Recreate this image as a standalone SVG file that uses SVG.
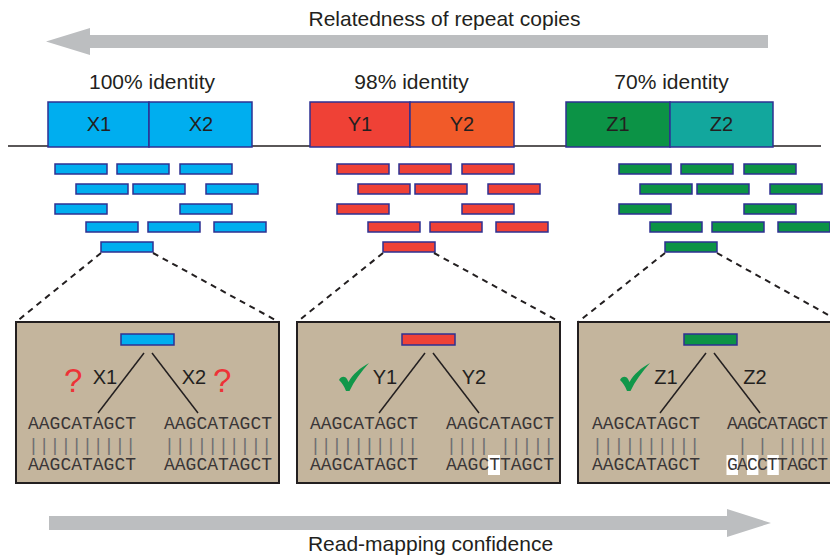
<svg xmlns="http://www.w3.org/2000/svg" xmlns:xlink="http://www.w3.org/1999/xlink" width="830" height="558" viewBox="0 0 830 558">
<style>
.lbl{font-family:"Liberation Sans",Arial,sans-serif;fill:#231f20}
.big{font-size:21px}
.box{font-size:20px;text-anchor:middle}
.q{font-family:"Liberation Sans",Arial,sans-serif;font-size:33px;fill:#ed3237}
.seq{font-family:"Courier New","Liberation Mono",monospace;font-size:18px;fill:#3a3637}
.bar{font-family:"Courier New","Liberation Mono",monospace;font-size:18px;fill:#6d6e71}
.rep{stroke:#2e3192;stroke-width:1.5}
.panel{fill:#c4b59d;stroke:#231f20;stroke-width:2}
.dash{stroke:#231f20;stroke-width:2;stroke-dasharray:6 5;fill:none}
.ln{stroke:#231f20;stroke-width:1.5;fill:none}
.arrow{fill:#bcbec0}
.hl{fill:#ffffff}
.chk{fill:#11974a}
</style>
<defs>
<g id="reads" stroke="#2e3192" stroke-width="1.5">
<rect x="55" y="164" width="52" height="10"/>
<rect x="117" y="164" width="52" height="10"/>
<rect x="180" y="164" width="52" height="10"/>
<rect x="76" y="184" width="52" height="10"/>
<rect x="133" y="184" width="52" height="10"/>
<rect x="206" y="184" width="52" height="10"/>
<rect x="55" y="204" width="52" height="10"/>
<rect x="180" y="204" width="52" height="10"/>
<rect x="86" y="222" width="52" height="10"/>
<rect x="148" y="222" width="52" height="10"/>
<rect x="214" y="222" width="52" height="10"/>
<rect x="101" y="242" width="52" height="10"/>
</g>
<path id="check" d="M58,380 C60,376 64,376 66,379 L67.5,382 C72,374 79,368 88,363 C80,372 73,381 68.5,391 L65,391 C63,386 61,383 58,380 Z"/>
</defs>

<g id="arrow-relatedness">
<path class="arrow" d="M768,35 L90,35 L90,28 L46,41.5 L90,55 L90,48 L768,48 Z"/>
<text class="lbl big" x="444.5" y="26" text-anchor="middle">Relatedness of repeat copies</text>
</g>

<g id="genome">
<line x1="8" y1="146" x2="821" y2="146" stroke="#231f20" stroke-width="1.5"/>
</g>

<g id="repeat-X">
<text class="lbl big" x="152" y="89" text-anchor="middle">100% identity</text>
<rect class="rep" x="48" y="102" width="101" height="45" fill="#00aeef"/>
<rect class="rep" x="149" y="102" width="103" height="45" fill="#00aeef"/>
<text class="lbl box" x="99" y="131">X1</text>
<text class="lbl box" x="201" y="131">X2</text>
</g>

<g id="repeat-Y">
<text class="lbl big" x="411.5" y="89" text-anchor="middle">98% identity</text>
<rect class="rep" x="310" y="102" width="100" height="45" fill="#ef4136"/>
<rect class="rep" x="410" y="102" width="104" height="45" fill="#f15a29"/>
<text class="lbl box" x="360" y="131">Y1</text>
<text class="lbl box" x="462" y="131">Y2</text>
</g>

<g id="repeat-Z">
<text class="lbl big" x="671.5" y="89" text-anchor="middle">70% identity</text>
<rect class="rep" x="566" y="102" width="104" height="45" fill="#0c9346"/>
<rect class="rep" x="670" y="102" width="103" height="45" fill="#12a79d"/>
<text class="lbl box" x="618" y="131">Z1</text>
<text class="lbl box" x="721.5" y="131">Z2</text>
</g>

<g id="reads-X"><use xlink:href="#reads" fill="#00aeef"/></g>
<g id="reads-Y"><use xlink:href="#reads" fill="#ef4136" transform="translate(282,0)"/></g>
<g id="reads-Z"><use xlink:href="#reads" fill="#0c9346" transform="translate(564,0)"/></g>

<g id="panel-X">
<rect class="panel" x="16" y="322" width="263" height="161"/>
<rect class="rep" x="121" y="334" width="53" height="11" fill="#00aeef"/>
<text class="q" x="64" y="392">?</text>
<text class="lbl box" x="105" y="384">X1</text>
<text class="lbl box" x="194" y="384">X2</text>
<text class="q" x="213" y="392">?</text>
<text class="seq" x="28" y="429">AAGCATAGCT</text>
<text class="bar" x="28" y="451">||||||||||</text>
<text class="seq" x="28" y="470">AAGCATAGCT</text>
<text class="seq" x="164" y="429">AAGCATAGCT</text>
<text class="bar" x="164" y="451">||||||||||</text>
<text class="seq" x="164" y="470">AAGCATAGCT</text>
</g>

<g id="panel-Y" transform="translate(281,0)">
<rect class="panel" x="16" y="322" width="263" height="161"/>
<rect class="rep" x="121" y="334" width="53" height="11" fill="#ef4136"/>
<use xlink:href="#check" class="chk"/>
<text class="lbl box" x="104" y="384">Y1</text>
<text class="lbl box" x="193" y="384">Y2</text>
<text class="seq" x="29" y="429">AAGCATAGCT</text>
<text class="bar" x="29" y="451">||||||||||</text>
<text class="seq" x="29" y="470">AAGCATAGCT</text>
<rect class="hl" x="207" y="455" width="12" height="20"/>
<text class="seq" x="165" y="429">AAGCATAGCT</text>
<text class="bar" x="165" y="451" xml:space="preserve">|||| |||||</text>
<text class="seq" x="165" y="470">AAGCTTAGCT</text>
</g>

<g id="panel-Z" transform="translate(562,0)">
<rect class="panel" x="16" y="322" width="263" height="161"/>
<rect class="rep" x="122" y="334" width="53" height="11" fill="#0c9346"/>
<use xlink:href="#check" class="chk"/>
<text class="lbl box" x="104" y="384">Z1</text>
<text class="lbl box" x="193" y="384">Z2</text>
<text class="seq" x="30" y="429">AAGCATAGCT</text>
<text class="bar" x="30" y="451">||||||||||</text>
<text class="seq" x="30" y="470">AAGCATAGCT</text>
<rect class="hl" x="164.5" y="455" width="11.5" height="20"/>
<rect class="hl" x="184.9" y="455" width="11.5" height="20"/>
<rect class="hl" x="205.3" y="455" width="11.5" height="20"/>
<text class="seq" x="165" y="429" textLength="101" lengthAdjust="spacing">AAGCATAGCT</text>
<text class="bar" x="165" y="451" xml:space="preserve" textLength="101" lengthAdjust="spacing"> | | |||||</text>
<text class="seq" x="165" y="470" textLength="101" lengthAdjust="spacing">GACCTTAGCT</text>
</g>

<g id="connectors">
<line class="dash" x1="101" y1="253" x2="16" y2="322"/>
<line class="dash" x1="153" y1="253" x2="279" y2="322"/>
<line class="dash" x1="383" y1="253" x2="297" y2="322"/>
<line class="dash" x1="434" y1="253" x2="560" y2="322"/>
<line class="dash" x1="665" y1="253" x2="578" y2="322"/>
<line class="dash" x1="717" y1="253" x2="841" y2="322"/>
<line class="ln" x1="144" y1="353" x2="98" y2="413"/>
<line class="ln" x1="152" y1="353" x2="198" y2="413"/>
<line class="ln" x1="425" y1="353" x2="379" y2="413"/>
<line class="ln" x1="433" y1="353" x2="479" y2="413"/>
<line class="ln" x1="706" y1="353" x2="660" y2="413"/>
<line class="ln" x1="714" y1="353" x2="760" y2="413"/>
</g>

<g id="arrow-confidence">
<path class="arrow" d="M49,516 L727,516 L727,509 L771,523 L727,537 L727,530 L49,530 Z"/>
<text class="lbl big" x="430.5" y="551" text-anchor="middle">Read-mapping confidence</text>
</g>
</svg>
